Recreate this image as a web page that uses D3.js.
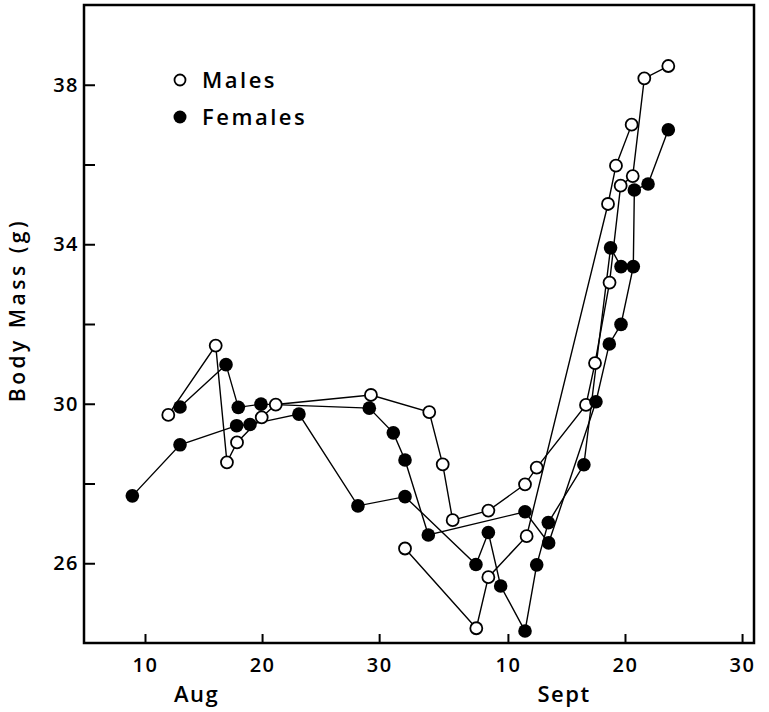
<!DOCTYPE html>
<html>
<head>
<meta charset="utf-8">
<script src="https://cdn.jsdelivr.net/npm/d3@7"></script>
<style>
  body { margin: 0; background: #fff; }
  text { font-family: "Open Sans", "DejaVu Sans", sans-serif; fill: #000; }
</style>
</head>
<body>
<div id="chart"></div>
<script>
// days are counted from 1 Aug (so 1 Sept = day 32), mass in grams
// each array is one animal, weighed again and again
let maleA = [[11.99, 29.72], [16.04, 31.46], [17.0, 28.53], [17.86, 29.03], [19.97, 29.66],
    [21.17, 29.98], [29.3, 30.22], [34.28, 29.79], [35.43, 28.48], [36.28, 27.08],
    [39.33, 27.32], [42.46, 27.98], [43.46, 28.4], [47.67, 29.97], [48.44, 31.02],
    [49.68, 33.04], [50.63, 35.47], [51.66, 35.71], [52.65, 38.16], [54.7, 38.47]];
let maleB = [[32.21, 26.37], [38.3, 24.37], [39.33, 25.65], [42.6, 26.68],
    [49.55, 35.01], [50.23, 35.97], [51.57, 37.0]];
let femaleA = [[12.99, 29.92], [16.92, 30.98], [17.97, 29.91], [19.91, 29.99], [29.16, 29.89],
    [31.21, 29.27], [32.21, 28.59], [34.2, 26.71], [42.46, 27.29], [44.48, 26.51],
    [48.52, 30.05], [49.66, 31.5], [50.66, 31.99], [51.71, 33.44], [51.8, 35.36],
    [52.97, 35.51], [54.7, 36.87]];
let femaleB = [[8.92, 27.69], [12.99, 28.97], [17.83, 29.45], [18.97, 29.48], [23.15, 29.74],
    [28.19, 27.44], [32.21, 27.67], [38.27, 25.97], [39.33, 26.77], [40.38, 25.43],
    [42.46, 24.3], [43.46, 25.96], [44.45, 27.02], [47.49, 28.47], [49.77, 33.91],
    [50.66, 33.44]];

let males = [maleA, maleB];
let females = [femaleA, femaleB];

let xTicks = [10, 20, 30, 41, 51, 61];
let xTickLabels = ["10", "20", "30", "10", "20", "30"];
let yTicks = [26, 28, 30, 32, 34, 36, 38];
let yTickLabels = ["26", "", "30", "", "34", "", "38"];
let months = [["Aug", 14.4], ["Sept", 45.8]];

let svgWidth = 769;
let svgHeight = 712;

// plot frame
let margin = { top: 5, left: 84, bottom: 69, right: 15 };
let width = svgWidth - margin.left - margin.right;
let height = svgHeight - margin.top - margin.bottom;

let svg = d3.select("#chart")
    .append("svg")
    .attr("width", svgWidth)
    .attr("height", svgHeight);

svg.append("rect").attr("width", svgWidth).attr("height", svgHeight).attr("fill", "#fff");

let chartGroup = svg.append("g")
    .attr("transform", `translate(${margin.left}, ${margin.top})`);

let xScale = d3.scaleLinear().domain([4.79, 62.02]).range([0, width]);
let yScale = d3.scaleLinear().domain([24, 40]).range([height, 0]);

// axes with ticks pointing inside
let xAxis = d3.axisBottom(xScale)
    .tickValues(xTicks)
    .tickSize(-9)
    .tickPadding(15)
    .tickFormat((d, i) => xTickLabels[i]);

let yAxis = d3.axisLeft(yScale)
    .tickValues(yTicks)
    .tickSize(-11)
    .tickPadding(5)
    .tickFormat((d, i) => yTickLabels[i]);

let gx = chartGroup.append("g")
    .attr("transform", `translate(0, ${height})`)
    .call(xAxis);
let gy = chartGroup.append("g").call(yAxis);

[gx, gy].forEach(g => {
    g.select(".domain").remove();
    g.selectAll(".tick line").attr("stroke", "#000").attr("stroke-width", 2);
    g.selectAll(".tick text")
        .style("font-size", "20px")
        .style("font-weight", "600")
        .style("letter-spacing", "1.5px");
});

// frame
chartGroup.append("rect")
    .attr("width", width)
    .attr("height", height)
    .attr("fill", "none")
    .attr("stroke", "#000")
    .attr("stroke-width", 2.5);

// month names
chartGroup.selectAll(".month")
    .data(months)
    .enter()
    .append("text")
    .attr("class", "month")
    .attr("x", d => xScale(d[1]))
    .attr("y", height + 59)
    .attr("text-anchor", "middle")
    .style("font-size", "22px")
    .style("font-weight", "600")
    .style("letter-spacing", "1.5px")
    .text(d => d[0]);

// y label
svg.append("text")
    .attr("transform", "translate(25, 310) rotate(-90)")
    .attr("text-anchor", "middle")
    .style("font-size", "21px")
    .style("font-weight", "600")
    .style("letter-spacing", "3.5px")
    .text("Body Mass (g)");

let line = d3.line()
    .x(d => xScale(d[0]))
    .y(d => yScale(d[1]));

// lines first so circles sit on top
chartGroup.selectAll(".track")
    .data(males.concat(females))
    .enter()
    .append("path")
    .attr("class", "track")
    .attr("d", line)
    .attr("fill", "none")
    .attr("stroke", "#000")
    .attr("stroke-width", 1.4);

males.forEach(m => {
    chartGroup.selectAll(null)
        .data(m)
        .enter()
        .append("circle")
        .attr("cx", d => xScale(d[0]))
        .attr("cy", d => yScale(d[1]))
        .attr("r", 6)
        .attr("fill", "#fff")
        .attr("stroke", "#000")
        .attr("stroke-width", 1.8);
});

females.forEach(f => {
    chartGroup.selectAll(null)
        .data(f)
        .enter()
        .append("circle")
        .attr("cx", d => xScale(d[0]))
        .attr("cy", d => yScale(d[1]))
        .attr("r", 6.8)
        .attr("fill", "#000");
});

// legend
let legend = [["Males", "#fff"], ["Females", "#000"]];
let lg = svg.selectAll(".legend")
    .data(legend)
    .enter()
    .append("g")
    .attr("class", "legend")
    .attr("transform", (d, i) => `translate(180, ${80 + i * 37})`);

lg.append("circle")
    .attr("r", d => d[1] === "#fff" ? 5.5 : 6.5)
    .attr("fill", d => d[1])
    .attr("stroke", "#000")
    .attr("stroke-width", d => d[1] === "#fff" ? 1.8 : 0);

lg.append("text")
    .attr("x", 22)
    .attr("y", 7.5)
    .style("font-size", "22px")
    .style("font-weight", "600")
    .style("letter-spacing", "2.5px")
    .text(d => d[0]);
</script>
</body>
</html>
